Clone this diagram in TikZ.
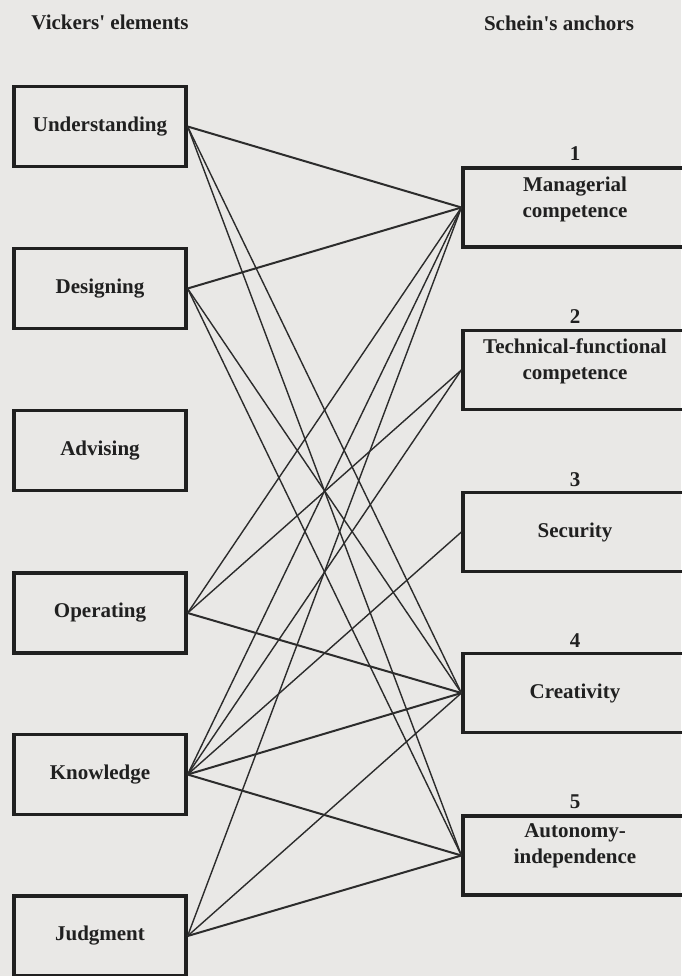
\documentclass[tikz,border=0pt]{standalone}
\usepackage{fontspec}
% no TeX ligature mapping, so ' stays a straight apostrophe
\setmainfont{Liberation Serif}[Ligatures=TeXOff]
\definecolor{paper}{RGB}{233,232,230}
\definecolor{ink}{RGB}{32,32,32}
\definecolor{wire}{RGB}{44,44,44}
\begin{document}
\begin{tikzpicture}[x=1pt,y=-1pt,
  every node/.style={font=\fontsize{21}{26}\selectfont\bfseries, text=ink},
  element/.style={draw=ink, line width=3.2pt, minimum width=172pt, minimum height=80pt, inner sep=0pt},
  anchorbox/.style={draw=ink, line width=3.2pt, minimum width=224pt, minimum height=79pt, inner sep=0pt},
  boxtext/.style={align=center, inner sep=0pt},
  link/.style={draw=wire, line width=1.4pt},
  flatlink/.style={draw=wire, line width=2pt}
]
% page
\fill[paper] (0,0) rectangle (681,976);
\useasboundingbox (0,0) rectangle (681,976);

% column headings
\node (hv) at (110,22) {Vickers' elements};
\node (hs) at (559,23) {Schein's anchors};

% Vickers' elements
\node[element] (und) at (100,126.5) {Understanding};
\node[element] (des) at (100,288.5) {Designing};
\node[element] (adv) at (100,450.5) {Advising};
\node[element] (ope) at (100,613) {Operating};
\node[element] (kno) at (100,774.5) {Knowledge};
\node[element] (jud) at (100,936) {Judgment};

% Schein's anchors
\node[anchorbox] (man) at (575,207.5) {};
\node[boxtext] (mant) at (575,199) {Managerial\\competence};
\node (n1) at (575,154) {1};

\node[anchorbox] (tec) at (575,370) {};
\node[boxtext] (tect) at (575,361) {Technical-functional\\competence};
\node (n2) at (575,317) {2};

\node[anchorbox] (sec) at (575,532) {Security};
\node (n3) at (575,480) {3};

\node[anchorbox] (cre) at (575,693) {Creativity};
\node (n4) at (575,641) {4};

\node[anchorbox] (aut) at (575,855.5) {};
\node[boxtext] (autt) at (575,846) {Autonomy-\\independence};
\node (n5) at (575,802) {5};

% links between elements and anchors
\draw[flatlink] (und.east) -- (man.west);
\draw[link] (und.east) -- (cre.west);
\draw[link] (und.east) -- (aut.west);

\draw[flatlink] (des.east) -- (man.west);
\draw[link] (des.east) -- (cre.west);
\draw[link] (des.east) -- (aut.west);

\draw[link] (ope.east) -- (man.west);
\draw[link] (ope.east) -- (tec.west);
\draw[flatlink] (ope.east) -- (cre.west);

\draw[link] (kno.east) -- (man.west);
\draw[link] (kno.east) -- (tec.west);
\draw[link] (kno.east) -- (sec.west);
\draw[flatlink] (kno.east) -- (cre.west);
\draw[flatlink] (kno.east) -- (aut.west);

\draw[link] (jud.east) -- (man.west);
\draw[link] (jud.east) -- (cre.west);
\draw[flatlink] (jud.east) -- (aut.west);
\end{tikzpicture}
\end{document}
